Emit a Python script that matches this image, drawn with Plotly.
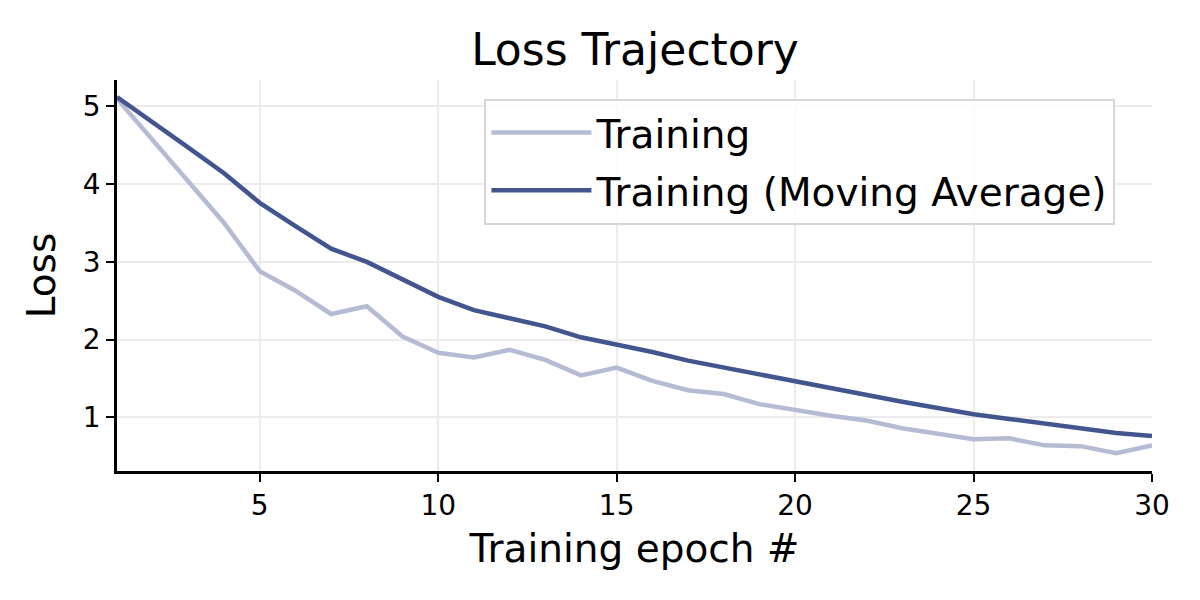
import plotly.graph_objects as go

# Loss values
epochs = list(range(1, 31))
training = [5.10, 4.56, 4.03, 3.50, 2.88, 2.63, 2.33, 2.43, 2.04, 1.83,
            1.77, 1.87, 1.74, 1.54, 1.64, 1.47, 1.35, 1.30, 1.17, 1.09,
            1.02, 0.96, 0.86, 0.79, 0.72, 0.73, 0.64, 0.63, 0.54, 0.64]
training_ma = [5.12, 4.80, 4.47, 4.14, 3.76, 3.46, 3.17, 3.00, 2.78, 2.55,
               2.38, 2.28, 2.17, 2.03, 1.94, 1.84, 1.73, 1.64, 1.55, 1.46,
               1.37, 1.29, 1.20, 1.12, 1.04, 0.98, 0.92, 0.86, 0.80, 0.76]
x_ticks = [5, 10, 15, 20, 25, 30]
y_ticks = [1, 2, 3, 4, 5]

FONT = "DejaVu Sans"
LIGHT = "#b4bbd3"
DARK = "#42558f"

fig = go.Figure()
fig.add_trace(go.Scatter(x=epochs, y=training, mode="lines", name="Training",
                         legendgroup="a",
                         line=dict(color=LIGHT, width=4.5)))
fig.add_trace(go.Scatter(x=epochs, y=training_ma, mode="lines",
                         name="Training (Moving Average)", legendgroup="b",
                         line=dict(color=DARK, width=4.5)))

axis_common = dict(
    showline=True, linecolor="black", linewidth=2.5,
    ticks="outside", ticklen=8, tickwidth=2, tickcolor="black",
    showgrid=True, gridcolor="#ececec", gridwidth=2,
    zeroline=False, tickfont=dict(family=FONT, size=28, color="black"),
)

fig.update_layout(
    width=1200, height=600,
    margin=dict(l=109, r=56, t=72, b=137),
    paper_bgcolor="white", plot_bgcolor="white",
    font=dict(family=FONT, color="black"),
    title=dict(text="Loss Trajectory", x=0.5225, xanchor="center",
               y=0.93, yanchor="middle", yref="container",
               font=dict(family=FONT, size=44, color="black")),
    xaxis=dict(range=[1, 30], tickvals=x_ticks, ticklabelstandoff=0,
               title=dict(text="Training epoch #", standoff=14,
                          font=dict(family=FONT, size=39)),
               **axis_common),
    yaxis=dict(range=[0.31, 5.34], tickvals=y_ticks, ticklabelstandoff=0,
               title=dict(text="Loss", standoff=16,
                          font=dict(family=FONT, size=39)),
               **axis_common),
    legend=dict(x=0.355, y=0.952, xanchor="left", yanchor="top",
                font=dict(family=FONT, size=39, color="black"),
                bgcolor="rgba(255,255,255,0.85)", bordercolor="#d6d6d6",
                borderwidth=2, itemwidth=100, traceorder="grouped",
                tracegroupgap=4),
    showlegend=True,
)

fig.write_html("out.html")
